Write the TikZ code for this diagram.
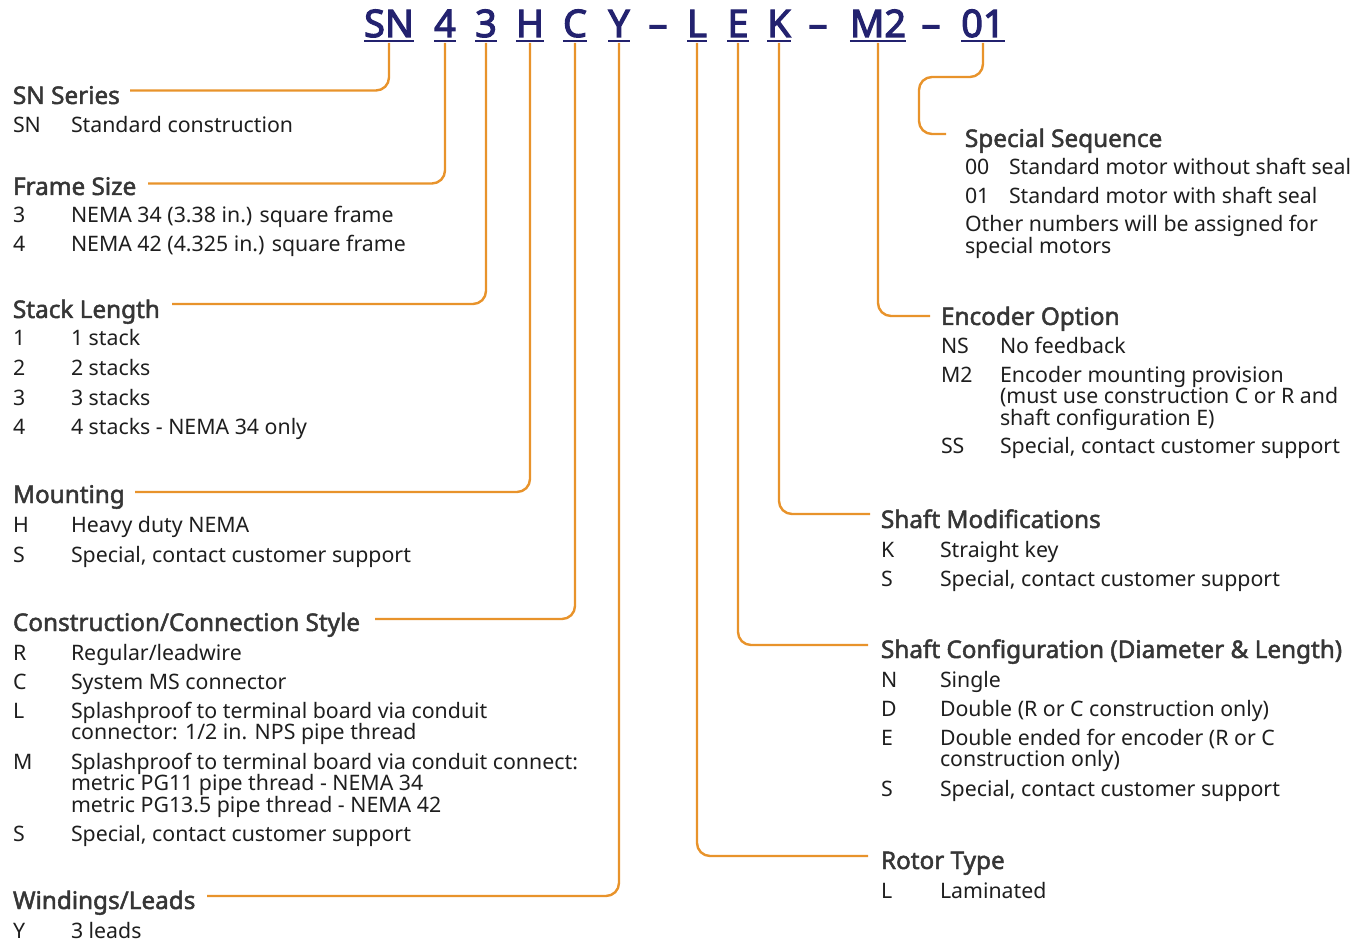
\documentclass[tikz,border=0pt]{standalone}
\usepackage{fontspec}
\setmainfont{Noto Sans}
\newfontfamily\headfont{Noto Sans}[FakeBold=2]
\newfontfamily\codefont{Noto Sans}[FakeBold=3]
\definecolor{ordorange}{HTML}{E8932B}
\definecolor{ordnavy}{HTML}{23226F}
\definecolor{ordtext}{HTML}{1E1E1E}
\definecolor{ordhead}{HTML}{363636}
\begin{document}
\begin{tikzpicture}[x=1pt,y=-1pt,
  every node/.style={inner sep=0pt, outer sep=0pt},
  code/.style={font=\codefont\fontsize{38}{38}\selectfont, text=ordnavy, anchor=base},
  head/.style={font=\headfont\fontsize{24.3}{26}\selectfont, text=ordhead, anchor=base west},
  key/.style={font=\fontsize{21.3}{21.5}\selectfont, text=ordtext, anchor=base west},
  desc/.style={font=\fontsize{21.3}{21.5}\selectfont, text=ordtext, anchor=base west, align=left},
  conn/.style={draw=ordorange, line width=2.4pt, rounded corners=13pt},
  uline/.style={draw=ordnavy, line width=2pt},
]
\useasboundingbox (0,0) rectangle (1366,941);

% ordering code
\node[code] (cSN) at (389,37) {SN};
\node[code] (c4)  at (445,37) {4};
\node[code] (c3)  at (486,37) {3};
\node[code] (cH)  at (530,37) {H};
\node[code] (cC)  at (575,37) {C};
\node[code] (cY)  at (619,37) {Y};
\node[code] (d1)  at (658,37) {–};
\node[code] (cL)  at (697,37) {L};
\node[code] (cE)  at (738,37) {E};
\node[code] (cK)  at (779,37) {K};
\node[code] (d2)  at (818,37) {–};
\node[code] (cM2) at (878,37) {M2};
\node[code] (d3)  at (931,37) {–};
\node[code] (c01) at (983,37) {01};
\foreach \c in {cSN,c4,c3,cH,cC,cY,cL,cE,cK,cM2,c01}
  \draw[uline] ([yshift=-4pt]\c.base west) -- ([yshift=-4pt]\c.base east);

% left column (multi-line texts are placed by the baseline of their last line)
\node[head] (hSN) at (13,104) {SN Series};
\node[key] at (13,133) {SN};
\node[desc] at (71,133) {Standard construction};

\node[head] (hFrame) at (13,195) {Frame Size};
\node[key] at (13,223) {3};
\node[desc] at (71,223) {NEMA 34 (3.38 in.) square frame};
\node[key] at (13,252) {4};
\node[desc] at (71,252) {NEMA 42 (4.325 in.) square frame};

\node[head] (hStack) at (13,318) {Stack Length};
\node[key] at (13,346) {1};
\node[desc] at (71,346) {1 stack};
\node[key] at (13,376) {2};
\node[desc] at (71,376) {2 stacks};
\node[key] at (13,405) {3};
\node[desc] at (71,405) {3 stacks};
\node[key] at (13,434) {4};
\node[desc] at (71,434) {4 stacks - NEMA 34 only};

\node[head] (hMount) at (13,503) {Mounting};
\node[key] at (13,532) {H};
\node[desc] at (71,532) {Heavy duty NEMA};
\node[key] at (13,562) {S};
\node[desc] at (71,562) {Special, contact customer support};

\node[head] (hCons) at (13,631) {Construction/Connection Style};
\node[key] at (13,660) {R};
\node[desc] at (71,660) {Regular/leadwire};
\node[key] at (13,689) {C};
\node[desc] at (71,689) {System MS connector};
\node[key] at (13,718) {L};
\node[desc] at (71,739.5) {Splashproof to terminal board via conduit\\connector: 1/2 in. NPS pipe thread};
\node[key] at (13,769) {M};
\node[desc] at (71,812) {Splashproof to terminal board via conduit connect:\\metric PG11 pipe thread - NEMA 34\\metric PG13.5 pipe thread - NEMA 42};
\node[key] at (13,841) {S};
\node[desc] at (71,841) {Special, contact customer support};

\node[head] (hWind) at (13,909) {Windings/Leads};
\node[key] at (13,938) {Y};
\node[desc] at (71,938) {3 leads};

% right column
\node[head] (hSpec) at (965,147) {Special Sequence};
\node[key] at (965,175) {00};
\node[desc] at (1009,175) {Standard motor without shaft seal};
\node[key] at (965,204) {01};
\node[desc] at (1009,204) {Standard motor with shaft seal};
\node[desc] at (965,253.5) {Other numbers will be assigned for\\special motors};

\node[head] (hEnc) at (941,325) {Encoder Option};
\node[key] at (941,354) {NS};
\node[desc] at (1000,354) {No feedback};
\node[key] at (941,382) {M2};
\node[desc] at (1000,425) {Encoder mounting provision\\(must use construction C or R and\\shaft configuration E)};
\node[key] at (941,453) {SS};
\node[desc] at (1000,453) {Special, contact customer support};

\node[head] (hMod) at (881,528) {Shaft Modifications};
\node[key] at (881,557) {K};
\node[desc] at (940,557) {Straight key};
\node[key] at (881,586) {S};
\node[desc] at (940,586) {Special, contact customer support};

\node[head] (hCfg) at (881,658) {Shaft Configuration (Diameter \& Length)};
\node[key] at (881,687) {N};
\node[desc] at (940,687) {Single};
\node[key] at (881,716) {D};
\node[desc] at (940,716) {Double (R or C construction only)};
\node[key] at (881,745) {E};
\node[desc] at (940,766.5) {Double ended for encoder (R or C\\construction only)};
\node[key] at (881,796) {S};
\node[desc] at (940,796) {Special, contact customer support};

\node[head] (hRotor) at (881,869) {Rotor Type};
\node[key] at (881,898) {L};
\node[desc] at (940,898) {Laminated};

% free ends of the leader lines
\coordinate (eSN) at (130,90.5);
\coordinate (eFrame) at (148,183.5);
\coordinate (eStack) at (172,304);
\coordinate (eMount) at (135,492);
\coordinate (eCons) at (375,619);
\coordinate (eWind) at (207,896);
\coordinate (eRotor) at (868,856);
\coordinate (eCfg) at (868,645);
\coordinate (eMod) at (870,514);
\coordinate (eEnc) at (930,316);
\coordinate (eSpec) at (946,134);

% leader lines
\draw[conn] ([yshift=-6pt]cSN.base) |- (eSN);
\draw[conn] ([yshift=-6pt]c4.base) |- (eFrame);
\draw[conn] ([yshift=-6pt]c3.base) |- (eStack);
\draw[conn] ([yshift=-6pt]cH.base) |- (eMount);
\draw[conn] ([yshift=-6pt]cC.base) |- (eCons);
\draw[conn] ([yshift=-6pt]cY.base) |- (eWind);
\draw[conn] ([yshift=-6pt]cL.base) |- (eRotor);
\draw[conn] ([yshift=-6pt]cE.base) |- (eCfg);
\draw[conn] ([yshift=-6pt]cK.base) |- (eMod);
\draw[conn] ([yshift=-6pt]cM2.base) |- (eEnc);
\draw[conn] ([yshift=-6pt]c01.base) |- (919,77) |- (eSpec);
\end{tikzpicture}
\end{document}
